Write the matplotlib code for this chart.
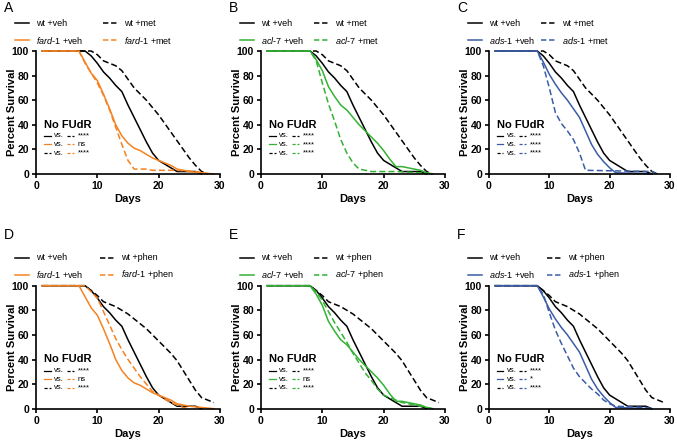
import matplotlib
matplotlib.use("Agg")
import matplotlib.pyplot as plt
from matplotlib.lines import Line2D

plt.rcParams['font.family'] = ['Liberation Sans', 'DejaVu Sans']
plt.rcParams['mathtext.fontset'] = 'custom'
plt.rcParams['mathtext.it'] = 'Liberation Sans:italic'
plt.rcParams['mathtext.rm'] = 'Liberation Sans'

W, H = 677, 441

# survival curves: day -> percent alive
wt_veh_days = [1, 8, 9, 10, 11, 12, 13, 14, 15, 16, 17, 18, 19, 20, 21, 22, 23, 26, 27]
wt_veh = [100, 100, 96, 90, 83, 78, 72, 67, 56, 46, 36, 26, 17, 11, 8, 5, 2, 2, 0]

wt_met_days = [1, 9, 10, 11, 12, 13, 14, 15, 16, 17, 18, 19, 20, 21, 22, 23, 24, 25, 26, 27, 28]
wt_met = [100, 100, 97, 92, 90, 88, 84, 77, 70, 65, 60, 54, 48, 41, 34, 27, 20, 13, 7, 2, 0]

wt_phen_days = [1, 8, 9, 10, 11, 12, 13, 14, 15, 16, 17, 18, 19, 20, 21, 22, 23, 24, 25, 26, 27, 28, 29]
wt_phen = [100, 100, 96, 92, 87, 85, 83, 80, 77, 73, 69, 65, 60, 55, 50, 45, 39, 31, 23, 15, 9, 7, 5]

fard_veh_days = [1, 7, 8, 9, 10, 11, 12, 13, 14, 15, 16, 17, 18, 19, 20, 21, 22, 23, 24, 25, 27, 29]
fard_veh = [100, 100, 91, 82, 76, 65, 53, 40, 31, 25, 21, 19, 16, 13, 11, 9, 7, 4, 3, 2, 1, 0]

fard_met_days = [1, 7, 8, 9, 10, 11, 12, 13, 14, 15, 16, 18, 19, 20, 23, 26, 27, 28]
fard_met = [100, 100, 90, 82, 74, 64, 52, 38, 24, 11, 4, 4, 3, 3, 3, 2, 1, 0]

fard_phen_days = [1, 8, 9, 10, 11, 12, 13, 14, 15, 16, 17, 18, 19, 20, 21, 22, 23, 24, 25]
fard_phen = [100, 100, 95, 90, 79, 68, 57, 48, 40, 33, 26, 20, 14, 11, 8, 5, 3, 1, 0]

acl_veh_days = [1, 8, 9, 10, 11, 12, 13, 14, 15, 16, 17, 18, 19, 20, 21, 22, 23, 24, 25, 26, 27, 28]
acl_veh = [100, 100, 93, 84, 71, 63, 56, 52, 46, 40, 35, 30, 25, 19, 12, 6, 6, 5, 4, 3, 1, 0]

acl_met_days = [1, 8, 9, 10, 11, 12, 13, 14, 15, 16, 17, 18, 22, 26, 27]
acl_met = [100, 100, 92, 74, 57, 43, 28, 17, 9, 4, 3, 2, 2, 1, 0]

acl_phen_days = [1, 8, 9, 10, 11, 12, 13, 14, 15, 16, 17, 18, 19, 20, 21, 22, 23, 24, 25, 26, 27, 28]
acl_phen = [100, 100, 95, 88, 79, 70, 62, 54, 45, 37, 29, 23, 16, 11, 9, 7, 5, 4, 3, 2, 1, 0]

ads_veh_days = [1, 8, 9, 10, 11, 12, 13, 14, 15, 16, 17, 18, 19, 20, 21, 27]
ads_veh = [100, 100, 91, 81, 73, 66, 60, 53, 46, 35, 24, 16, 10, 5, 1, 0]

ads_met_days = [1, 8, 9, 10, 11, 12, 13, 14, 15, 16, 27, 28]
ads_met = [100, 100, 88, 70, 50, 41, 35, 28, 17, 3, 2, 0]

ads_phen_days = [1, 8, 9, 10, 11, 12, 13, 14, 15, 16, 17, 18, 19, 20, 21, 26, 27]
ads_phen = [100, 100, 93, 78, 64, 53, 43, 33, 26, 21, 16, 12, 7, 4, 2, 1, 0]

orange = '#F58220'
green = '#33B233'
blue = '#3B5CA6'

# letter, gene, number, drug, colour, wt drug, mut veh, mut drug, significance,
# axes left px, axes right px, axes top px, legend col2 offset, letter y px
panels = [
    ('A', 'fard', '1', 'met', orange, (wt_met_days, wt_met), (fard_veh_days, fard_veh), (fard_met_days, fard_met), ['****', 'ns', '****'], 36, 220, 51, 67, 8),
    ('B', 'acl', '7', 'met', green, (wt_met_days, wt_met), (acl_veh_days, acl_veh), (acl_met_days, acl_met), ['****', '****', '****'], 261, 445, 51, 53, 8),
    ('C', 'ads', '1', 'met', blue, (wt_met_days, wt_met), (ads_veh_days, ads_veh), (ads_met_days, ads_met), ['****', '****', '****'], 489, 670, 51, 52, 8),
    ('D', 'fard', '1', 'phen', orange, (wt_phen_days, wt_phen), (fard_veh_days, fard_veh), (fard_phen_days, fard_phen), ['****', 'ns', '****'], 36, 220, 285.7, 64, 235),
    ('E', 'acl', '7', 'phen', green, (wt_phen_days, wt_phen), (acl_veh_days, acl_veh), (acl_phen_days, acl_phen), ['****', 'ns', '****'], 261, 445, 285.7, 53, 235),
    ('F', 'ads', '1', 'phen', blue, (wt_phen_days, wt_phen), (ads_veh_days, ads_veh), (ads_phen_days, ads_phen), ['****', '*', '****'], 489, 670, 285.7, 58, 235),
]

fig = plt.figure(figsize=(W / 100, H / 100), dpi=100)
lw = 1.1
dash = (4, 2)


def fig_line(x0, x1, y, color, dashed):
    ln = Line2D([x0 / W, x1 / W], [1 - y / H, 1 - y / H], transform=fig.transFigure,
                color=color, lw=lw)
    if dashed:
        ln.set_dashes((3.5, 1.8))
    fig.add_artist(ln)


for letter, gene, num, drug, col, wtd, mv, md, sig, L, R, T, c2, ly in panels:
    B = T + 123
    ax = fig.add_axes([L / W, 1 - B / H, (R - L) / W, 123 / H])
    ax.plot(wt_veh_days, wt_veh, color='black', lw=lw, clip_on=False)
    ax.plot(wtd[0], wtd[1], color='black', lw=lw, dashes=dash, clip_on=False)
    ax.plot(mv[0], mv[1], color=col, lw=lw, clip_on=False)
    ax.plot(md[0], md[1], color=col, lw=lw, dashes=dash, clip_on=False)

    ax.set_xlim(0, 30)
    ax.set_ylim(0, 100)
    ax.set_xticks([0, 10, 20, 30])
    ax.set_yticks([0, 20, 40, 60, 80, 100])
    for s in ['top', 'right']:
        ax.spines[s].set_visible(False)
    for s in ['left', 'bottom']:
        ax.spines[s].set_linewidth(1.2)
    ax.tick_params(length=3, width=1.2, labelsize=7.5, pad=2)
    for t in ax.get_xticklabels() + ax.get_yticklabels():
        t.set_fontweight('bold')
    ax.set_xlabel('Days', fontsize=8, fontweight='bold')
    ax.set_ylabel('Percent Survival', fontsize=8, fontweight='bold')
    ax.xaxis.set_label_coords(0.5, -20 / 123)
    ax.yaxis.set_label_coords(-19 / (R - L), 0.5)

    # stats block
    ax.text(1.3, 40, 'No FUdR', fontsize=8, fontweight='bold', va='center')
    rows = [(('black', False), ('black', True)),
            ((col, False), (col, True)),
            (('black', True), (col, True))]
    for i, (a, b) in enumerate(rows):
        y = 31 - 7 * i
        la, = ax.plot([1.3, 2.4], [y, y], color=a[0], lw=0.9)
        if a[1]:
            la.set_dashes((2.5, 1.5))
        ax.text(2.9, y, 'vs.', fontsize=5.5, va='center')
        lb, = ax.plot([5.0, 6.2], [y, y], color=b[0], lw=0.9)
        if b[1]:
            lb.set_dashes((2.5, 1.5))
        ax.text(6.8, y, sig[i], fontsize=5.5, va='center')

    # legend above the axes
    y1, y2 = T - 28, T - 11
    fig_line(L - 21, L - 7, y1, 'black', False)
    fig.text(L / W, 1 - y1 / H, 'wt +veh', fontsize=6.5, va='center')
    fig_line(L - 21, L - 7, y2, col, False)
    fig.text(L / W, 1 - y2 / H, r'$\it{%s}$-$\it{%s}$ +veh' % (gene, num), fontsize=6.5, va='center')
    fig_line(L + c2, L + c2 + 14, y1, 'black', True)
    fig.text((L + c2 + 21) / W, 1 - y1 / H, 'wt +%s' % drug, fontsize=6.5, va='center')
    fig_line(L + c2, L + c2 + 14, y2, col, True)
    fig.text((L + c2 + 21) / W, 1 - y2 / H, r'$\it{%s}$-$\it{%s}$ +%s' % (gene, num, drug),
             fontsize=6.5, va='center')

    # panel letter
    fig.text((L - 32) / W, 1 - ly / H, letter, fontsize=10, va='center')

fig.savefig('out.png', dpi=100)
